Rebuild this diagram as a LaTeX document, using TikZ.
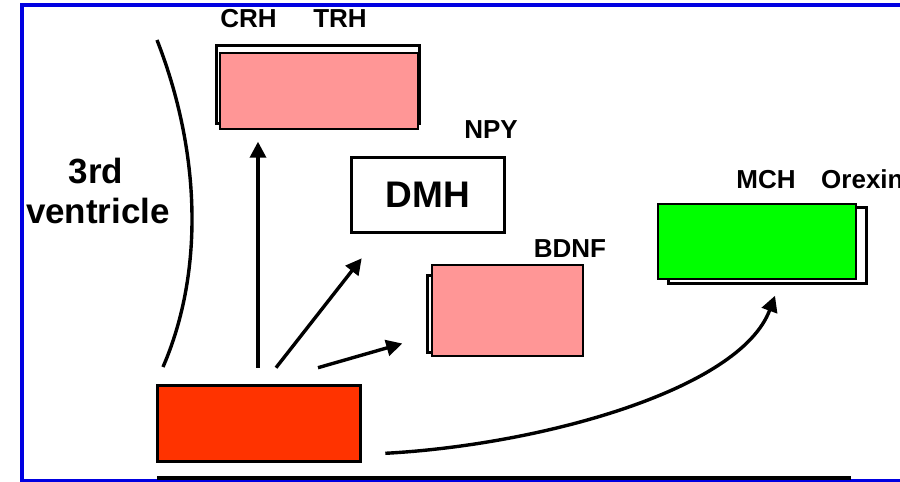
\documentclass[tikz,border=0pt]{standalone}
\usepackage{fontspec}
\setmainfont{Liberation Sans}
\usetikzlibrary{arrows.meta,calc}
\definecolor{hypink}{RGB}{255,150,150}
\definecolor{hyred}{RGB}{255,51,0}
\definecolor{hygreen}{RGB}{0,255,0}
\definecolor{hyblue}{RGB}{0,0,225}
\tikzset{
  hybox/.style={
    rectangle, draw=black, line width=1.4pt, inner sep=0pt, anchor=center
  },
  hyback/.style={hybox, fill=white, line width=3.8pt},
  hynucleus/.style={hybox, fill=white, line width=3.6pt,
    font=\fontsize{37}{40}\selectfont\bfseries},
  hyedge/.style={-{Triangle[length=16pt,width=16pt]}, line width=3.4pt},
  hyline/.style={line width=3.4pt},
  hylabel/.style={font=\fontsize{26}{28}\selectfont\bfseries, inner sep=0pt, anchor=base},
  hyventricle/.style={font=\fontsize{35}{38}\selectfont\bfseries, inner sep=0pt, anchor=base},
  hyframe/.style={draw=hyblue, line width=3.2pt}
}

\begin{document}
\begin{tikzpicture}[x=1pt,y=-1pt]
  \useasboundingbox (0,0) rectangle (900,482);
  % frame
  \draw[hyframe] (900,5) -- (22,5) -- (22,481) -- (900,481);
  \draw[line width=4pt] (157,477.5) -- (851,477.5);

  % third ventricle wall
  \draw[hyline] (157,40) .. controls (200,150) and (205,270) .. (163,367);
  \node[hyventricle] (v3rd) at (96,183) {3rd};
  \node[hyventricle] (vname) at (98,223) {ventricle};

  % target nuclei
  \node[hyback,minimum width=203pt,minimum height=78pt] (hpvnback) at (318,84.5) {};
  \node[hybox,fill=hypink,minimum width=198pt,minimum height=76pt] (hpvn) at (319,91) {};
  \node[hylabel] (crh) at (248.5,27) {CRH};
  \node[hylabel] (trh) at (340,27) {TRH};

  \node[hynucleus,minimum width=153pt,minimum height=75pt] (dmh) at (428,195) {DMH};
  \node[hylabel] (npy) at (491,138) {NPY};

  \node[hyback,minimum width=149pt,minimum height=77pt] (bdnfback) at (502,314) {};
  \node[hybox,fill=hypink,minimum width=151pt,minimum height=91pt] (bdnf) at (507.5,310.5) {};
  \node[hylabel] (bdnflab) at (570,257) {BDNF};

  \node[hyback,minimum width=198pt,minimum height=76pt] (mchback) at (767.5,245.5) {};
  \node[hybox,fill=hygreen,minimum width=198pt,minimum height=75pt] (mch) at (757,241.5) {};
  \node[hylabel] (mchlab) at (766,188) {MCH};
  \node[hylabel,anchor=base west] (orexin) at (821,188) {Orexin};

  % arcuate nucleus
  \node[hybox,fill=hyred,line width=3.6pt,minimum width=203pt,minimum height=76pt] (arc) at (259,423.5) {};

  % projections
  \coordinate (outup) at ([shift={(-1,-16)}]arc.north);
  \coordinate (outmid) at ([shift={(17,-16)}]arc.north);
  \coordinate (outright) at ([shift={(59,-16)}]arc.north);
  \coordinate (outcurve) at ([shift={(23,-10)}]arc.south east);
  \draw[hyedge,shorten >=12pt] (outup) -- (hpvn.south -| outup);
  \draw[hyedge] (outmid) -- ([shift={(12,24)}]dmh.south west);
  \draw[hyedge] (outright) -- ([shift={(-29,33)}]bdnf.west);
  \draw[hyedge] (outcurve) .. controls (540,445) and (740,390) .. ([shift={(18,16)}]mch.south);
\end{tikzpicture}
\end{document}
